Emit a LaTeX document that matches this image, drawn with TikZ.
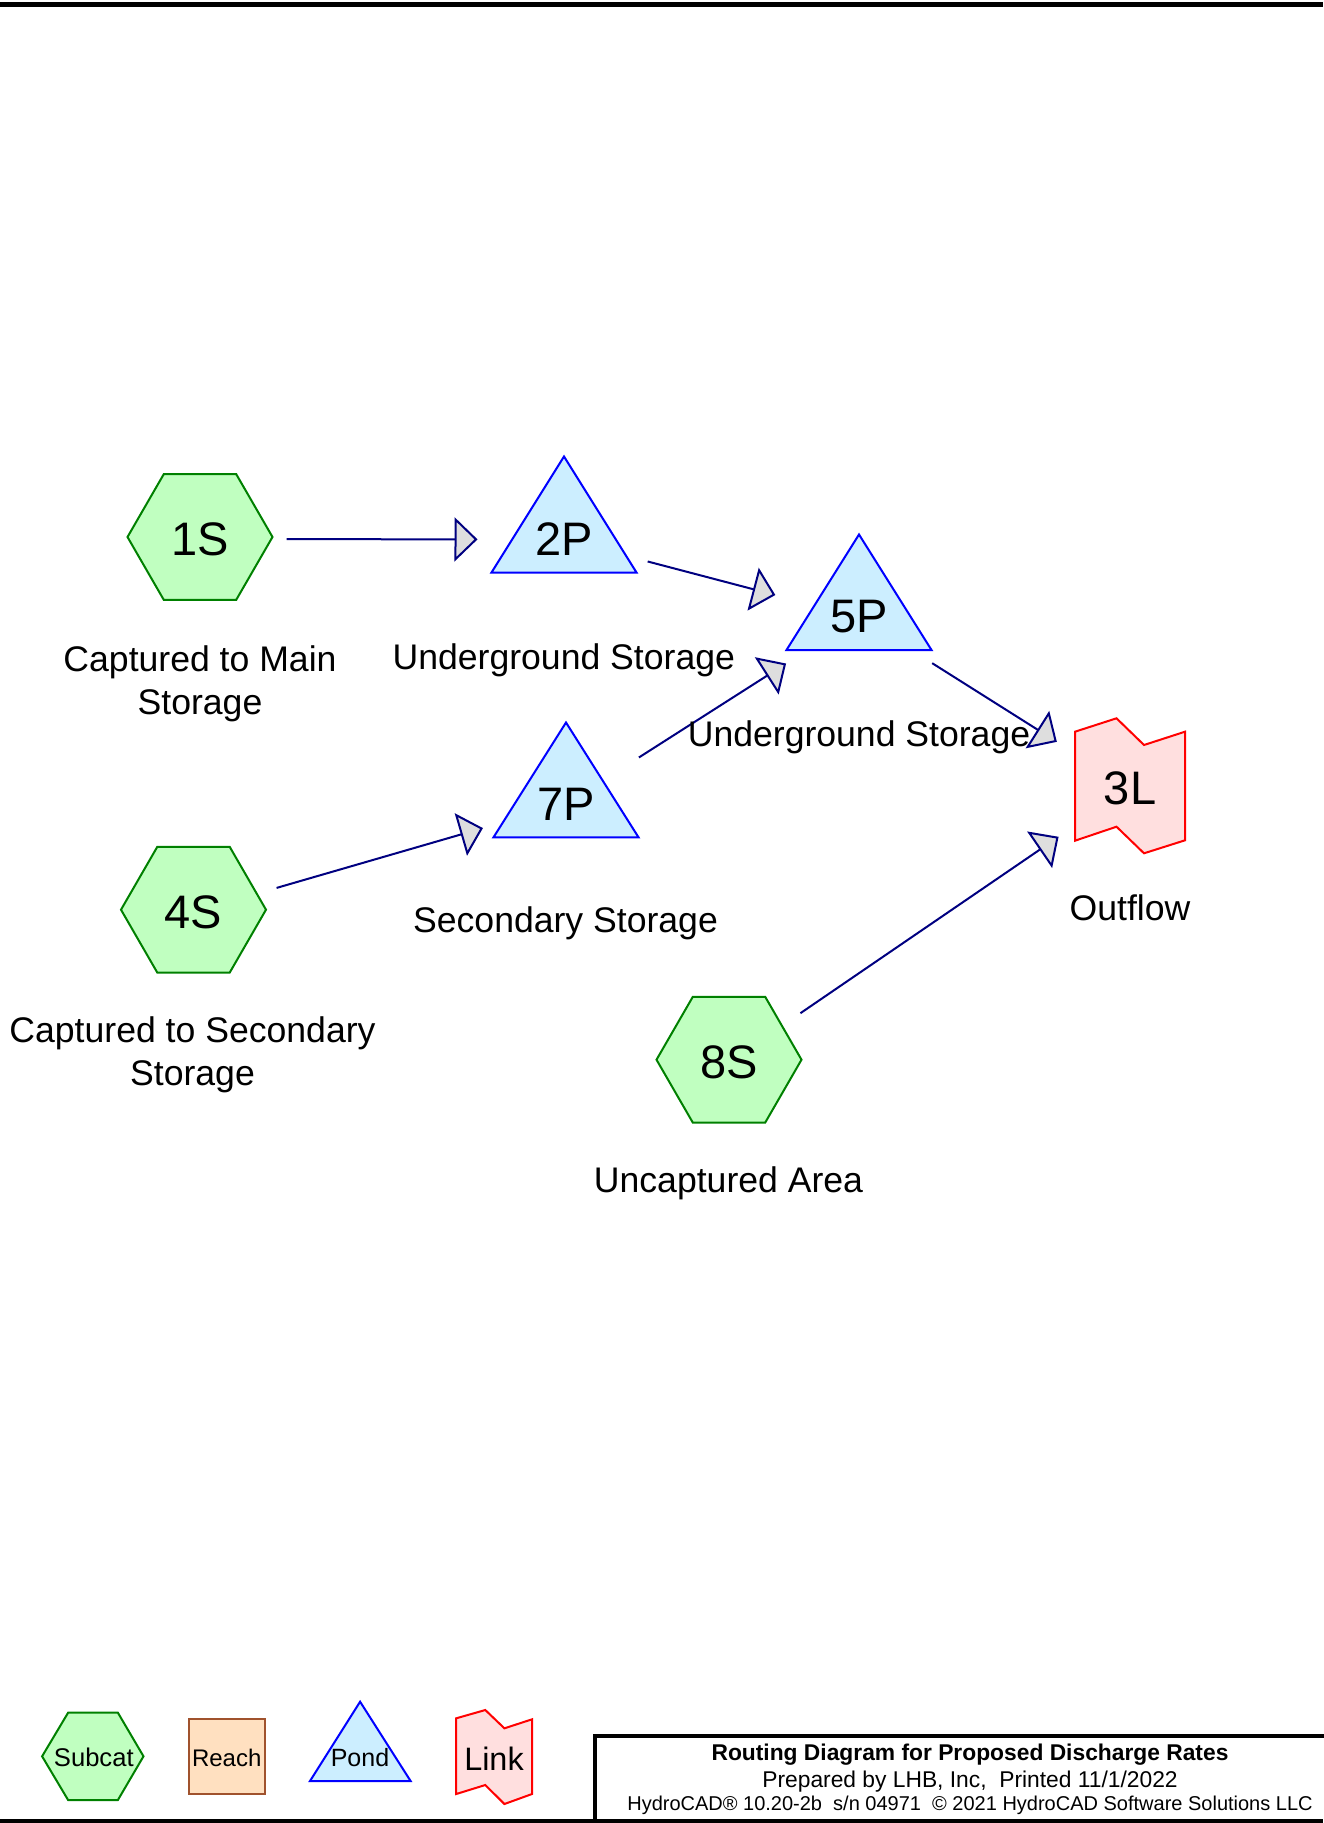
\documentclass[tikz,border=0pt]{standalone}
\usepackage{fontspec}
\setmainfont{Liberation Sans}
\usetikzlibrary{arrows.meta}
\definecolor{subfill}{HTML}{C0FFC0}
\definecolor{subedge}{HTML}{008000}
\definecolor{pondfill}{HTML}{CCEEFF}
\definecolor{pondedge}{HTML}{0000FF}
\definecolor{linkfill}{HTML}{FFDFDF}
\definecolor{linkedge}{HTML}{FF0000}
\definecolor{reachfill}{HTML}{FFE0C0}
\definecolor{reachedge}{HTML}{A0522D}
\definecolor{navy}{HTML}{000080}
\definecolor{headfill}{HTML}{DEDEDE}
\tikzset{
  subcat/.style={draw=subedge,fill=subfill,line width=1pt},
  pond/.style={draw=pondedge,fill=pondfill,line width=1pt},
  link/.style={draw=linkedge,fill=linkfill,line width=1pt},
  reach/.style={draw=reachedge,fill=reachfill,line width=1pt},
  tag/.style={font=\fontsize{23.5}{24}\selectfont,inner sep=0pt},
  caption/.style={font=\fontsize{17.8}{21.3}\selectfont,align=center,anchor=base,inner sep=0pt},
  keytext/.style={anchor=base,inner sep=0pt},
  flow/.style={draw=navy,line width=1pt,shorten <=43.25pt,shorten >=43.25pt,
    -{Triangle[length=11.5pt,width=22pt,fill=headfill]}},
  frame/.style={line width=2pt}
}
\begin{document}
\begin{tikzpicture}[x=.5pt,y=-.5pt]
  \useasboundingbox (0,0) rectangle (1323,1823);
  \draw[line width=2.35pt] (0,4.3) -- (1323,4.3);
  % subcatchments, ponds and the link
  \draw[subcat,shift={(200,537)}] (-72.5,0)--(-36.25,-62.8)--(36.25,-62.8)--(72.5,0)--(36.25,62.8)--(-36.25,62.8)--cycle;
  \draw[subcat,shift={(193.5,909.7)}] (-72.5,0)--(-36.25,-62.8)--(36.25,-62.8)--(72.5,0)--(36.25,62.8)--(-36.25,62.8)--cycle;
  \draw[subcat,shift={(729,1059.7)}] (-72.5,0)--(-36.25,-62.8)--(36.25,-62.8)--(72.5,0)--(36.25,62.8)--(-36.25,62.8)--cycle;
  \draw[pond,shift={(564,539.5)}] (0,-83)--(72.5,33)--(-72.5,33)--cycle;
  \draw[pond,shift={(566,804)}] (0,-81.5)--(72.5,33.3)--(-72.5,33.3)--cycle;
  \draw[pond,shift={(859,617)}] (0,-82.5)--(72.5,33)--(-72.5,33)--cycle;
  \draw[link,shift={(1130,787)}] (-55,-55.3)--(-13.5,-68.7)--(14,-42)--(55,-55.3)--(55,53.3)--(14,66.3)--(-13.5,39.7)--(-55,53.7)--cycle;
  \node[tag] (n1S) at (200,539) {1S};
  \node[tag] (n4S) at (193.5,912) {4S};
  \node[tag] (n8S) at (729,1062) {8S};
  \node[tag] (n2P) at (564,539.5) {2P};
  \node[tag] (n7P) at (566,804) {7P};
  \node[tag] (n5P) at (859,617) {5P};
  \node[tag] (n3L) at (1130,788) {3L};
  \draw[flow] (n1S.center) -- (n2P.center);
  \draw[flow] (n2P.center) -- (n5P.center);
  \draw[flow] (n4S.center) -- (n7P.center);
  \draw[flow] (n7P.center) -- (n5P.center);
  \draw[flow] (n5P.center) -- (n3L.center);
  \draw[flow] (n8S.center) -- (n3L.center);
  % two-line captions sit on the baseline of their last line
  \node[caption] (c1S) at (200,714.3) {Captured to Main\\Storage};
  \node[caption] (c4S) at (192.5,1085) {Captured to Secondary\\Storage};
  \node[caption] (c8S) at (728.5,1192.3) {Uncaptured Area};
  \node[caption] (c2P) at (563.8,669.3) {Underground Storage};
  \node[caption] (c5P) at (859,746) {Underground Storage};
  \node[caption] (c7P) at (565.5,932.3) {Secondary Storage};
  \node[caption] (c3L) at (1130,920) {Outflow};
  % legend
  \draw[subcat] (42.1,1756.3)--(68.1,1712.7)--(117.9,1712.7)--(143.5,1756.3)--(117.9,1800)--(68.1,1800)--cycle;
  \draw[reach] (188.7,1719) rectangle (264.8,1794.3);
  \draw[pond] (360.1,1701.7)--(410.6,1781)--(310,1781)--cycle;
  \draw[link] (456.2,1718.3)--(485.3,1710)--(504.4,1728.3)--(532,1719.3)--(532,1794)--(504.4,1804)--(485.3,1785)--(456.2,1794)--cycle;
  \node[keytext,font=\fontsize{12.8}{14}\selectfont] (kSubcat) at (93.8,1766.7) {Subcat};
  \node[keytext,font=\fontsize{12}{14}\selectfont] (kReach) at (226.7,1766) {Reach};
  \node[keytext,font=\fontsize{12.5}{14}\selectfont] (kPond) at (360,1766) {Pond};
  \node[keytext,font=\fontsize{16.2}{17}\selectfont] (kLink) at (494,1770) {Link};
  % title block
  \draw[frame] (1330,1735.5) -| (594.5,1830);
  \draw[frame] (0,1821) -- (1323,1821);
  \node[keytext,font=\bfseries\fontsize{11.4}{12}\selectfont] (title) at (970,1760) {Routing Diagram for Proposed Discharge Rates};
  \node[keytext,font=\fontsize{11.4}{12}\selectfont] (prepared) at (970,1787) {Prepared by LHB, Inc,\ \ Printed 11/1/2022};
  \node[keytext,font=\fontsize{10}{11}\selectfont] (version) at (970,1810) {HydroCAD® 10.20-2b\ \ s/n 04971\ \ © 2021 HydroCAD Software Solutions LLC};
\end{tikzpicture}
\end{document}
